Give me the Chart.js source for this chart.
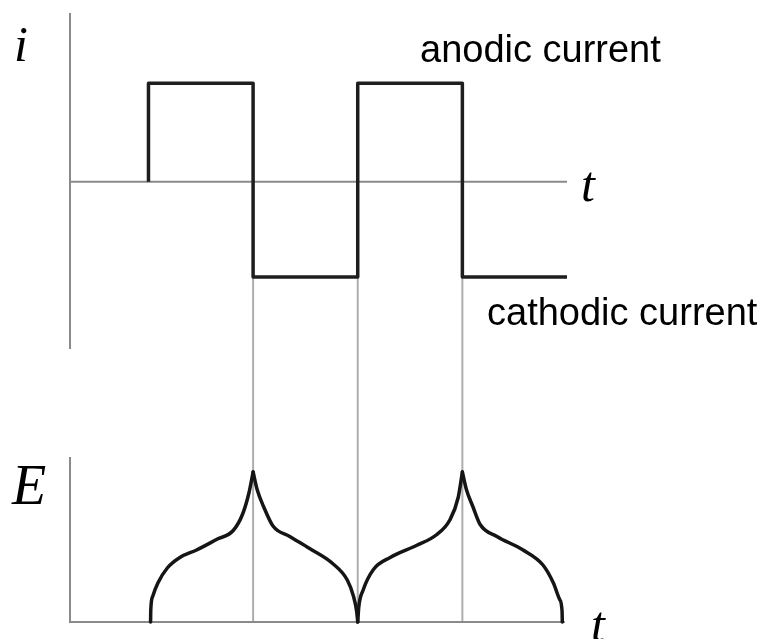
<!DOCTYPE html>
<html>
<head>
<meta charset="utf-8">
<script src="https://cdn.jsdelivr.net/npm/chart.js@4/dist/chart.umd.min.js"></script>
<style>
  html, body { margin: 0; padding: 0; background: #fff; }
  canvas { display: block; }
</style>
</head>
<body>
<canvas id="pulseChart" width="765" height="639"></canvas>
<script>
/* ------------------------------------------------
   Pulse current i(t) and potential response E(t)
   time unit = one half-period of the pulse
------------------------------------------------ */

// square wave current (horizontal to the next time, then vertical)
const pulseTimes   = [0.75, 0.75, 1.75, 2.75, 3.75, 4.75];
const pulseCurrent = [0, 1, -0.97, 1, -0.97, -0.97];

// potential arcs, split at the cusps so the tips stay sharp
const eRise1T = [0.77, 0.772, 0.79, 0.84, 0.93, 1.05, 1.21, 1.40, 1.56, 1.65, 1.71, 1.75];
const eRise1E = [0.0, 0.08, 0.17, 0.26, 0.36, 0.43, 0.48, 0.55, 0.61, 0.72, 0.86, 1.0];
const eFall1T = [1.75, 1.79, 1.85, 1.94, 2.10, 2.29, 2.51, 2.65, 2.71, 2.74, 2.75];
const eFall1E = [1.0, 0.88, 0.77, 0.64, 0.57, 0.49, 0.39, 0.28, 0.17, 0.07, 0.0];
const eRise2T = [2.75, 2.76, 2.80, 2.90, 3.06, 3.31, 3.50, 3.63, 3.71, 3.75];
const eRise2E = [0.0, 0.10, 0.21, 0.35, 0.43, 0.51, 0.58, 0.68, 0.83, 1.0];
const eFall2T = [3.75, 3.79, 3.85, 3.92, 4.08, 4.33, 4.52, 4.62, 4.68, 4.703, 4.705];
const eFall2E = [1.0, 0.88, 0.77, 0.65, 0.57, 0.48, 0.38, 0.26, 0.15, 0.07, 0.0];

// guide lines where the current switches
const switchTimes = [1.75, 2.75, 3.75];

// axis extents
const T_MAX      = 4.75;
const E_T_MAX    = 4.73;
const I_AXIS_TOP = 1.714;
const I_AXIS_BOT = -1.7;
const E_AXIS_TOP = 1.1;

const zip = (xs, ys) => xs.map((x, i) => ({ x, y: ys[i] }));

const curveStyle = {
  yAxisID: 'yE',
  borderColor: '#151515',
  borderWidth: 3.5,
  pointRadius: 0,
  cubicInterpolationMode: 'monotone',
  fill: false,
  clip: false,
  borderCapStyle: 'round',
  borderJoinStyle: 'round',
};

const axesPlugin = {
  id: 'axes',
  beforeDatasetsDraw(chart) {
    const { ctx, scales: { x, yI, yE } } = chart;
    ctx.save();
    ctx.lineCap = 'butt';

    // guide lines from the cathodic level down to the E axis
    ctx.strokeStyle = '#adadad';
    ctx.lineWidth = 2;
    switchTimes.forEach(t => {
      const px = x.getPixelForValue(t);
      ctx.beginPath();
      ctx.moveTo(px, yI.getPixelForValue(pulseCurrent[2]));
      ctx.lineTo(px, yE.getPixelForValue(0));
      ctx.stroke();
    });

    // axes
    ctx.strokeStyle = '#8a8a8a';
    ctx.lineWidth = 2;
    const x0 = x.getPixelForValue(0);
    ctx.beginPath();
    ctx.moveTo(x0, yI.getPixelForValue(I_AXIS_TOP));
    ctx.lineTo(x0, yI.getPixelForValue(I_AXIS_BOT));
    ctx.moveTo(x0, yI.getPixelForValue(0));
    ctx.lineTo(x.getPixelForValue(T_MAX), yI.getPixelForValue(0));
    ctx.moveTo(x0, yE.getPixelForValue(E_AXIS_TOP));
    ctx.lineTo(x0, yE.getPixelForValue(0));
    ctx.lineTo(x.getPixelForValue(E_T_MAX), yE.getPixelForValue(0));
    ctx.stroke();
    ctx.restore();
  },
  afterDraw(chart) {
    const { ctx } = chart;
    ctx.save();
    ctx.fillStyle = '#000';
    ctx.textBaseline = 'alphabetic';

    ctx.textAlign = 'left';
    ctx.font = '38px "Liberation Sans", Arial, sans-serif';
    ctx.fillText('anodic current', 420, 62);
    ctx.fillText('cathodic current', 487, 325);

    ctx.textAlign = 'center';
    ctx.font = 'italic 50px "Liberation Serif", "Times New Roman", serif';
    ctx.fillText('i', 21, 61);
    ctx.fillText('t', 588, 201);
    ctx.fillText('t', 598, 641);
    ctx.font = 'italic 56px "Liberation Serif", "Times New Roman", serif';
    ctx.fillText('E', 29, 504);
    ctx.restore();
  },
};

new Chart(document.getElementById('pulseChart'), {
  type: 'line',
  data: {
    datasets: [
      {
        label: 'i',
        data: zip(pulseTimes, pulseCurrent),
        yAxisID: 'yI',
        stepped: 'before',
        borderColor: '#1e1e1e',
        borderWidth: 3.5,
        pointRadius: 0,
        fill: false,
        clip: false,
        borderJoinStyle: 'round',
      },
      { label: 'E rise 1', data: zip(eRise1T, eRise1E), ...curveStyle },
      { label: 'E fall 1', data: zip(eFall1T, eFall1E), ...curveStyle },
      { label: 'E rise 2', data: zip(eRise2T, eRise2E), ...curveStyle },
      { label: 'E fall 2', data: zip(eFall2T, eFall2E), ...curveStyle },
    ],
  },
  options: {
    responsive: false,
    animation: false,
    devicePixelRatio: 1,
    layout: { padding: { left: 70, right: 198, top: 13, bottom: 17 } },
    plugins: { legend: { display: false }, tooltip: { enabled: false } },
    scales: {
      x:  { type: 'linear', min: 0, max: T_MAX, display: false },
      yI: { type: 'linear', min: -4.475, max: 1.714, display: false },
      yE: { type: 'linear', min: 0, max: 4.06, display: false },
    },
  },
  plugins: [axesPlugin],
});
</script>
</body>
</html>
